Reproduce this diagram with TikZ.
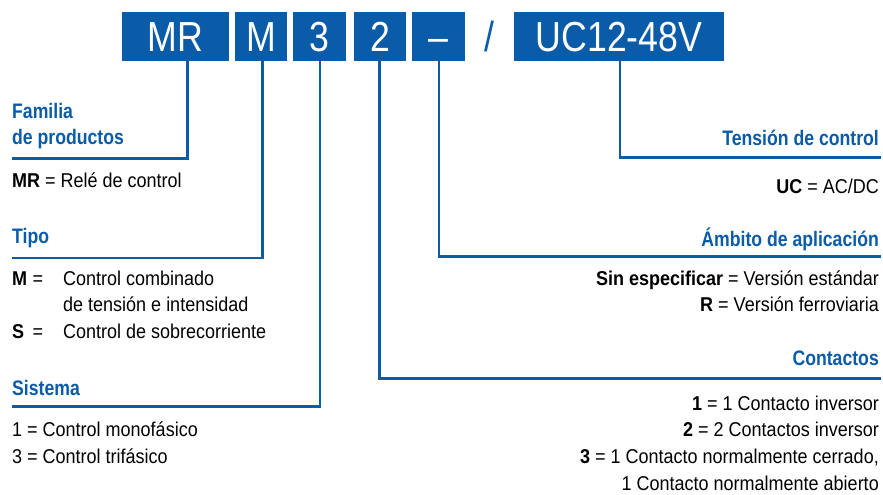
\documentclass[tikz,border=0pt]{standalone}
\usepackage{fontspec}
\setmainfont[FakeStretch=0.9]{Liberation Sans}
\newfontfamily\headfont[FakeStretch=0.84]{Liberation Sans}
\newfontfamily\boxfont[FakeStretch=0.85]{Liberation Sans}
\definecolor{brand}{HTML}{0A5BA8}
\begin{document}
\begin{tikzpicture}[x=1pt,y=-1pt,
  codebox/.style={fill=brand,draw=none,inner sep=0pt,minimum height=49pt,
    text height=30.5pt,text depth=0pt,text=white,font=\boxfont\fontsize{42}{42}\selectfont},
  link/.style={draw=brand,line width=2.6pt,line join=miter},
  head/.style={inner sep=0pt,text=brand,font=\headfont\fontsize{21}{26.5}\selectfont\bfseries},
  body/.style={inner sep=0pt,text=black,font=\fontsize{20}{26.5}\selectfont}]
\useasboundingbox (0,0) rectangle (883,495);
% code boxes
\node[codebox,minimum width=107pt] (mr) at (175.5,36.5) {MR};
\node[codebox,minimum width=52pt] (m) at (261,36.5) {M};
\node[codebox,minimum width=53pt] (b3) at (319.2,36.5) {3};
\node[codebox,minimum width=52pt] (b2) at (380,36.5) {2};
\node[codebox,minimum width=53pt] (dash) at (438.3,36.5) {–};
\node[inner sep=0pt,text=brand,text height=30.5pt,text depth=0pt,font=\boxfont\fontsize{42}{42}\selectfont] (slash) at (489,36.5) {/};
\node[codebox,minimum width=210pt] (uc) at (619,36.5) {UC12-48V};
% line corners and ends
\coordinate (famc) at (187.3,158.5); \coordinate (fame) at (11.5,158.5);
\coordinate (tipc) at (262.3,258);   \coordinate (tipe) at (11.5,258);
\coordinate (sisc) at (320,406.5);   \coordinate (sise) at (11.5,406.5);
\coordinate (conc) at (379.3,378.5); \coordinate (cone) at (881,378.5);
\coordinate (ambc) at (439,256.5);   \coordinate (ambe) at (881,256.5);
\coordinate (tenc) at (620,157.5);   \coordinate (tene) at (881,157.5);
\draw[link] (famc |- mr.south) -- (famc) -- (fame);
\draw[link] (tipc |- m.south) -- (tipc) -- (tipe);
\draw[link] (sisc |- b3.south) -- (sisc) -- (sise);
\draw[link] (conc |- b2.south) -- (conc) -- (cone);
\draw[link] (ambc |- dash.south) -- (ambc) -- (ambe);
\draw[link] (tenc |- uc.south) -- (tenc) -- (tene);
% left column
\node[head,anchor=base west] (fam1) at (12,118) {Familia};
\node[head,anchor=base west] (fam2) at (12,144.5) {de productos};
\node[body,anchor=base west] (famt) at (12,187) {\textbf{MR} = Relé de control};
\node[head,anchor=base west] (tipo) at (12,243) {Tipo};
\node[body,anchor=base west] (tm) at (12,285) {\textbf{M}};
\node[body,anchor=base west] (tmeq) at (32.5,285) {=};
\node[body,anchor=base west] (tm1) at (63,285) {Control combinado};
\node[body,anchor=base west] (tm2) at (63,311.5) {de tensión e intensidad};
\node[body,anchor=base west] (ts) at (12,338) {\textbf{S}};
\node[body,anchor=base west] (tseq) at (32.5,338) {=};
\node[body,anchor=base west] (ts1) at (63,338) {Control de sobrecorriente};
\node[head,anchor=base west] (sis) at (12,395) {Sistema};
\node[body,anchor=base west] (s1) at (12,436.7) {1 = Control monofásico};
\node[body,anchor=base west] (s3) at (12,463) {3 = Control trifásico};
% right column
\node[head,anchor=base east] (ten) at (879,145) {Tensión de control};
\node[body,anchor=base east] (tent) at (879,193) {\textbf{UC} = AC/DC};
\node[head,anchor=base east] (amb) at (879,246.5) {Ámbito de aplicación};
\node[body,anchor=base east] (amb1) at (879,285) {\textbf{Sin especificar} = Versión estándar};
\node[body,anchor=base east] (amb2) at (879,311.5) {\textbf{R} = Versión ferroviaria};
\node[head,anchor=base east] (con) at (879,365) {Contactos};
\node[body,anchor=base east] (c1) at (879,410) {\textbf{1} = 1 Contacto inversor};
\node[body,anchor=base east] (c2) at (879,436.7) {\textbf{2} = 2 Contactos inversor};
\node[body,anchor=base east] (c3) at (879,463.3) {\textbf{3} = 1 Contacto normalmente cerrado,};
\node[body,anchor=base east] (c4) at (879,490) {1 Contacto normalmente abierto};
\end{tikzpicture}
\end{document}
